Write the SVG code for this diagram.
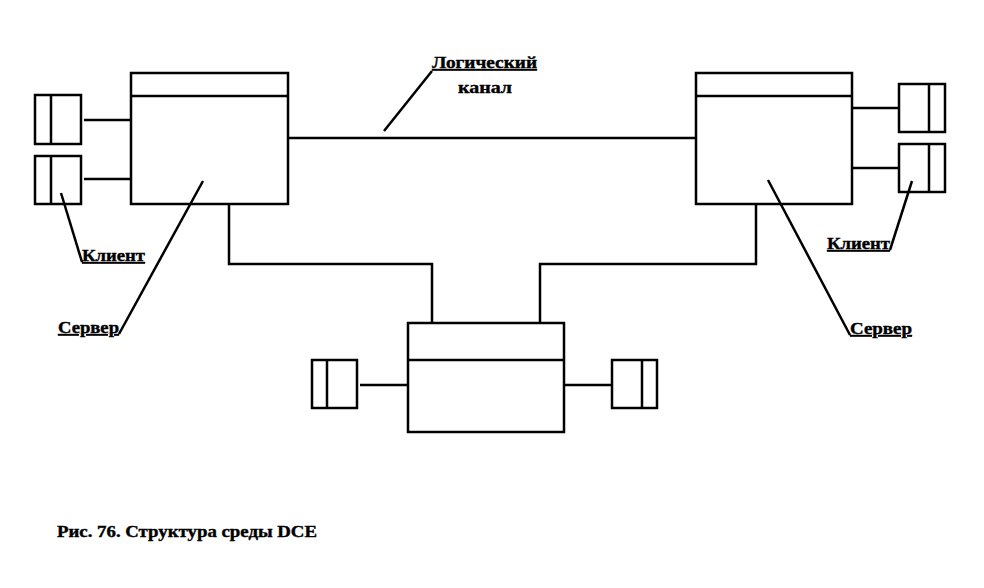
<svg xmlns="http://www.w3.org/2000/svg" width="984" height="588" viewBox="0 0 984 588">
<style>
.b{fill:#fff;stroke:#000;stroke-width:2.5}
.l{fill:none;stroke:#000;stroke-width:2.5}
.t{font-family:"Liberation Serif","Times New Roman",serif;font-weight:bold;font-size:17px;fill:#000;stroke:#000;stroke-width:0.4}
.u{text-decoration:underline}
</style>
<rect width="984" height="588" fill="#fff"/>
<g id="connectors">
<line class="l" x1="84" y1="120" x2="131" y2="120"/>
<line class="l" x1="84" y1="179" x2="131" y2="179"/>
<line class="l" x1="852" y1="108" x2="899" y2="108"/>
<line class="l" x1="852" y1="168" x2="899" y2="168"/>
<line class="l" x1="360" y1="385" x2="408" y2="385"/>
<line class="l" x1="564" y1="385" x2="612" y2="385"/>
<line class="l" x1="288" y1="138" x2="696" y2="138"/>
<polyline class="l" points="229,204 229,264 432,264 432,323"/>
<polyline class="l" points="756,204 756,264 540,264 540,323"/>
</g>
<g id="server-left">
<rect class="b" x="131" y="73" width="157" height="131"/>
<line class="l" x1="131" y1="96" x2="288" y2="96"/>
</g>
<g id="server-right">
<rect class="b" x="696" y="73" width="156" height="131"/>
<line class="l" x1="696" y1="96" x2="852" y2="96"/>
</g>
<g id="server-bottom">
<rect class="b" x="408" y="323" width="156" height="109"/>
<line class="l" x1="408" y1="360" x2="564" y2="360"/>
</g>
<g id="client-left-1">
<rect class="b" x="35" y="95" width="46" height="49"/>
<line class="l" x1="51" y1="95" x2="51" y2="144"/>
</g>
<g id="client-left-2">
<rect class="b" x="35" y="156" width="46" height="48"/>
<line class="l" x1="51" y1="156" x2="51" y2="204"/>
</g>
<g id="client-right-1">
<rect class="b" x="899" y="84" width="46" height="48"/>
<line class="l" x1="929" y1="84" x2="929" y2="132"/>
</g>
<g id="client-right-2">
<rect class="b" x="899" y="144" width="46" height="48"/>
<line class="l" x1="929" y1="144" x2="929" y2="192"/>
</g>
<g id="client-bottom-left">
<rect class="b" x="312" y="360" width="45" height="48"/>
<line class="l" x1="327" y1="360" x2="327" y2="408"/>
</g>
<g id="client-bottom-right">
<rect class="b" x="612" y="360" width="45" height="48"/>
<line class="l" x1="642" y1="360" x2="642" y2="408"/>
</g>
<g id="leaders">
<line class="l" x1="384" y1="131" x2="432" y2="71"/>
<line class="l" x1="61" y1="193" x2="82" y2="262"/>
<line class="l" x1="203" y1="181" x2="119" y2="334"/>
<line class="l" x1="912" y1="181" x2="890" y2="250"/>
<line class="l" x1="768" y1="180" x2="850" y2="335"/>
</g>
<g id="labels">
<text class="t u" x="432" y="68" textLength="105" lengthAdjust="spacingAndGlyphs">Логический</text>
<text class="t" x="458" y="93" textLength="54" lengthAdjust="spacingAndGlyphs">канал</text>
<text class="t u" x="82" y="261" textLength="63" lengthAdjust="spacingAndGlyphs">Клиент</text>
<text class="t u" x="58" y="333" textLength="61" lengthAdjust="spacingAndGlyphs">Сервер</text>
<text class="t u" x="827" y="249" textLength="63" lengthAdjust="spacingAndGlyphs">Клиент</text>
<text class="t u" x="850" y="334" textLength="62" lengthAdjust="spacingAndGlyphs">Сервер</text>
<text class="t" x="57" y="537" font-size="15" textLength="260" lengthAdjust="spacingAndGlyphs">Рис. 76. Структура среды DCE</text>
</g>
</svg>
